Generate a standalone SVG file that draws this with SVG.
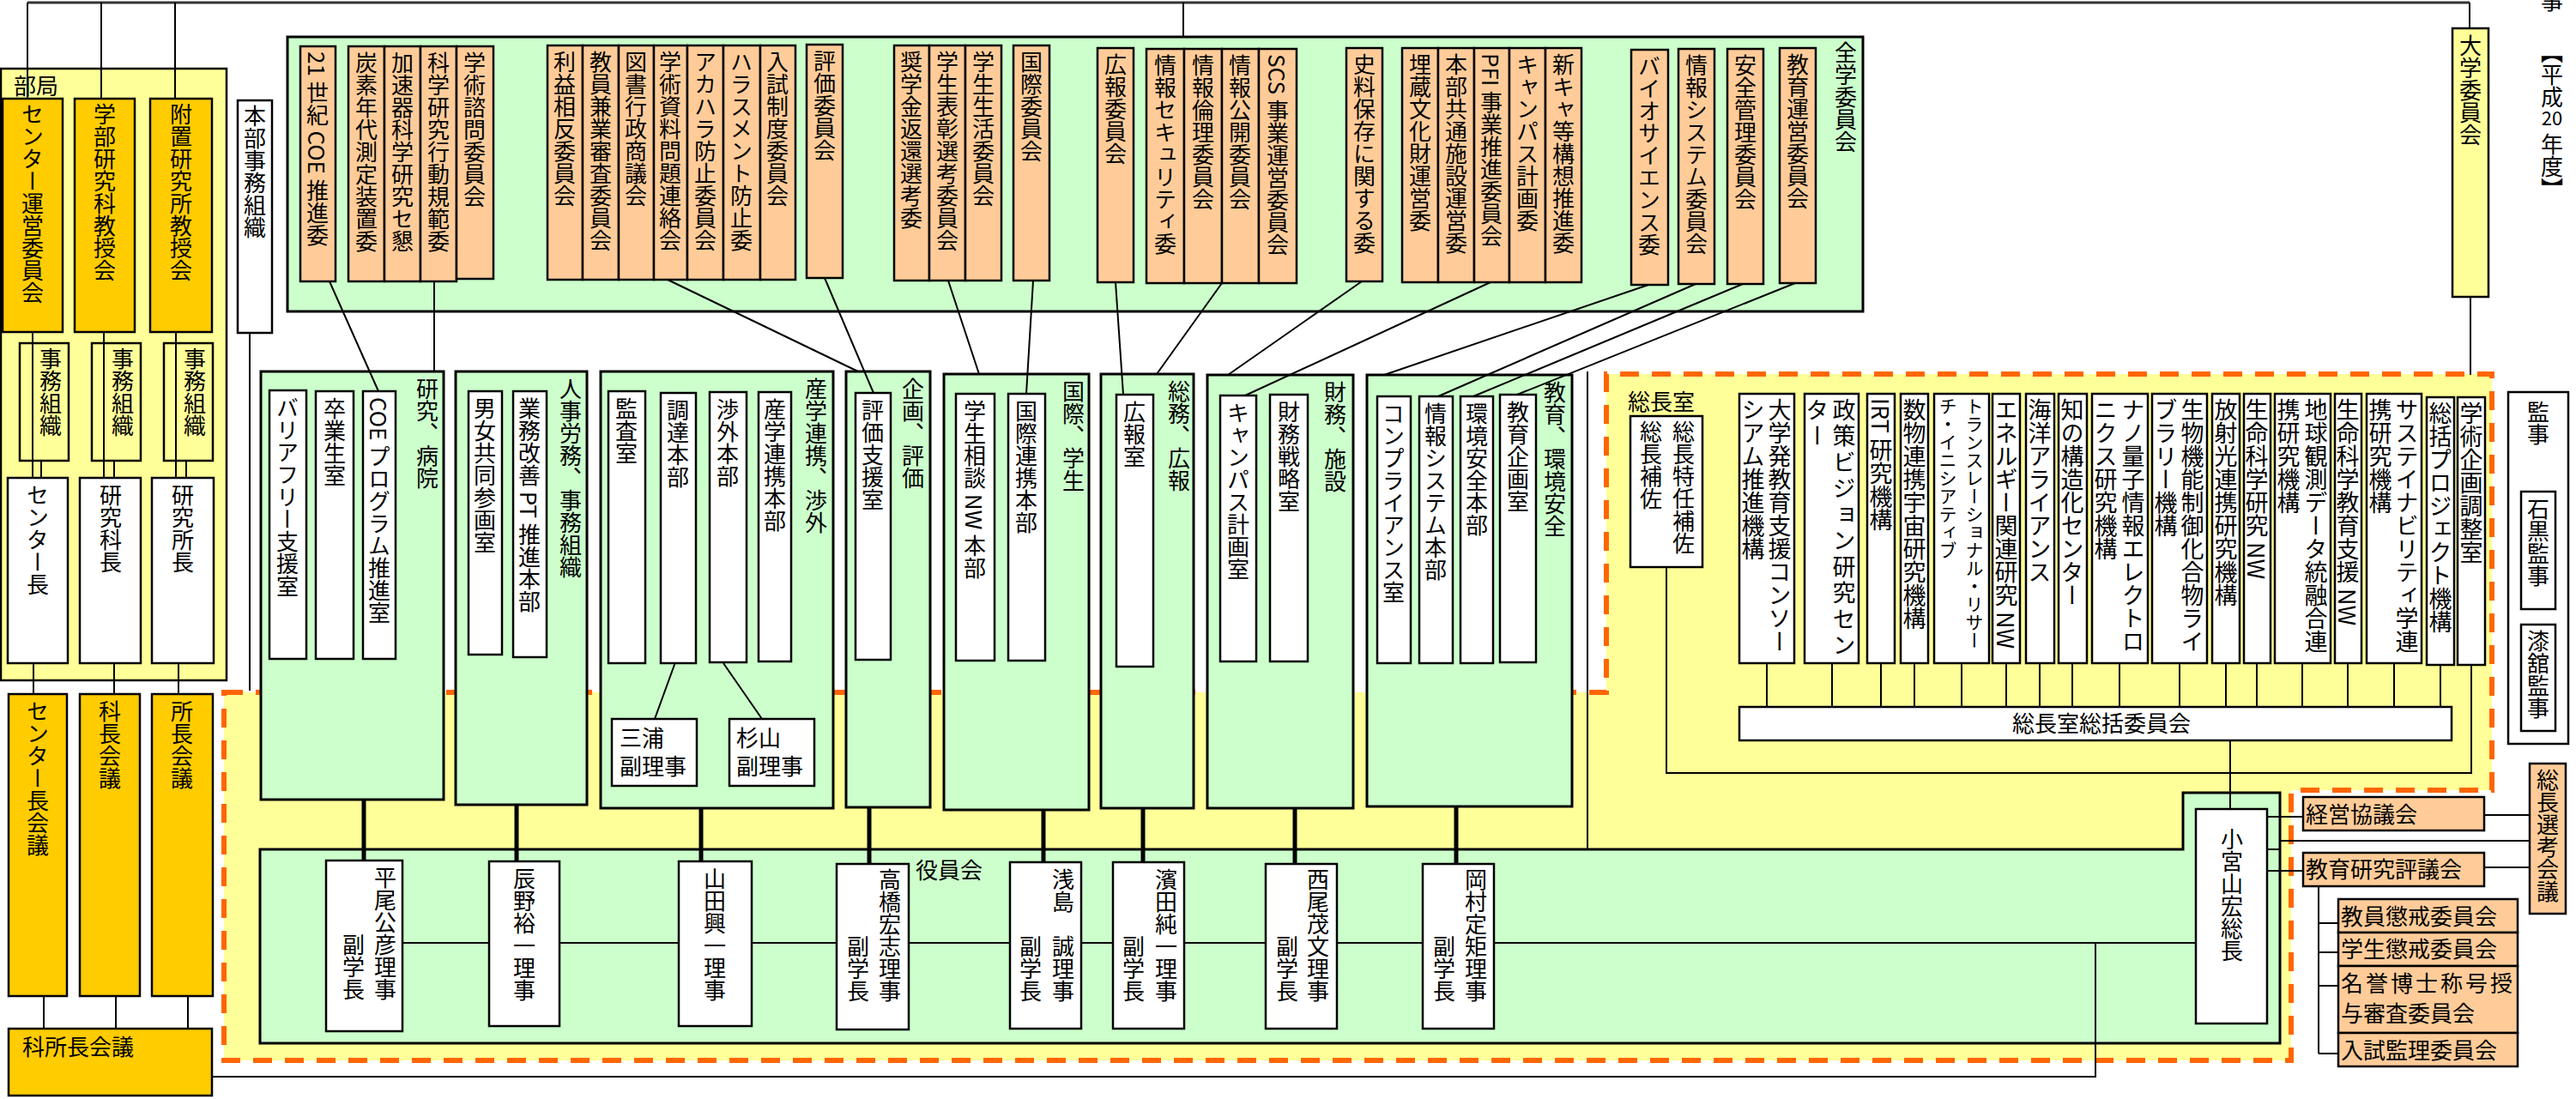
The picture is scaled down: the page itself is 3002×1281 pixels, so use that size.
<svg xmlns="http://www.w3.org/2000/svg" width="3002" height="1281" viewBox="0 0 3002 1281">
<style>
text{font-family:"Noto Sans CJK JP","Noto Sans CJK SC",sans-serif;font-size:26px;fill:#000}
.v{writing-mode:vertical-rl}
.ln{stroke:#000;stroke-width:2;fill:none}
.tk{stroke:#000;stroke-width:5;fill:none}
.top{stroke:#333;stroke-width:3;fill:none}
.cm{fill:#FFCC99;stroke:#000;stroke-width:2.5}
.wh{fill:#fff;stroke:#000;stroke-width:2.5}
.gr{fill:#CCFFCC;stroke:#000;stroke-width:3}
.ye{fill:#FFFF99;stroke:#000;stroke-width:2.5}
.go{fill:#FFCC00;stroke:#000;stroke-width:2.5}
.dash{fill:#FFFF99;stroke:#FF6600;stroke-width:6;stroke-dasharray:22 15}
.ins{font-size:27px}
.sm{font-size:21px}
</style>
<rect x="0" y="0" width="3002" height="1281" fill="#fff"/>

<!-- containers -->
<g id="bukyoku">
<rect class="ye" x="1" y="80" width="263" height="713"/>
<text x="16" y="110">部局</text>
</g>
<g id="socho-shitsu-area">
<path class="dash" d="M261,807 H1872 V436 H2904 V921 H2670 V1236 H261 Z"/>
<text x="1897" y="478">総長室</text>
</g>
<g id="zengaku">
<rect class="gr" x="335" y="43" width="1836" height="320"/>
<text class="v" x="2151" y="48">全学委員会</text>
</g>
<g id="daigaku-iinkai">
<rect class="ye" x="2858" y="33" width="42" height="313"/>
<text class="v" x="2879" y="40">大学委員会</text>
</g>
<g id="heisei">
<text class="v" x="2974" y="48">【平成</text>
<text x="2974" y="146" style="font-size:22px" text-anchor="middle">20</text>
<text class="v" x="2974" y="155">年度】</text>
<text x="2974" y="11" text-anchor="middle">事</text>
</g>

<!-- departments (green) -->
<g id="d-kenkyu"><rect class="gr" x="304" y="433" width="213" height="499"/><text class="v" x="498" y="440">研究、病院</text></g>
<g id="d-jinji"><rect class="gr" x="531" y="433" width="153" height="505"/><text class="v" x="665" y="440">人事労務、事務組織</text></g>
<g id="d-sangaku"><rect class="gr" x="700" y="433" width="271" height="509"/><text class="v" x="951" y="440">産学連携、渉外</text></g>
<g id="d-kikaku"><rect class="gr" x="986" y="433" width="98" height="508"/><text class="v" x="1064" y="440">企画、評価</text></g>
<g id="d-kokusai"><rect class="gr" x="1100" y="436" width="169" height="508"/><text class="v" x="1251" y="443">国際、学生</text></g>
<g id="d-somu"><rect class="gr" x="1283" y="436" width="108" height="506"/><text class="v" x="1374" y="443">総務、広報</text></g>
<g id="d-zaimu"><rect class="gr" x="1407" y="437" width="170" height="505"/><text class="v" x="1556" y="444">財務、施設</text></g>
<g id="d-kyoiku"><rect class="gr" x="1593" y="437" width="239" height="503"/><text class="v" x="1812" y="444">教育、環境安全</text></g>

<g id="yakuinkai">
<path class="gr" d="M303,990 H2544 V924 H2657 V1216 H303 Z"/>
<text x="1067" y="1024">役員会</text>
</g>

<!-- connectors -->
<g id="connectors">
<path class="top" d="M32,3 H2878"/>
<path class="ln" d="M32,3 V115 M118,3 V115 M204,3 V115 M1379,3 V43 M2878,3 V33 M2879,346 V437"/>
<path class="ln" d="M38,387 V557 M48,537 V557 M121,387 V557 M133,537 V557 M205,387 V557 M217,537 V557"/>
<path class="ln" d="M39,773 V809 M133,773 V809 M208,773 V809"/>
<path class="ln" d="M51,1161 V1199 M135,1161 V1199 M219,1161 V1199"/>
<path class="ln" d="M247,1255 H2442 V1099"/>
<path class="ln" d="M291,388 V805"/>
<path class="ln" d="M384,328 L441,456 M506,328 V433 M778,326 L1000,433 M961,324 L1018,458 M1105,327 L1141,436 M1204,327 L1196,459 M1300,329 L1309,460 M1424,330 L1348,436 M1587,328 L1431,437 M1737,329 L1451,461 M1921,332 L1613,437 M1976,331 L1676,462 M2031,331 L1717,462 M2092,330 L1768,460"/>
<path class="ln" d="M787,772 L763,838 M843,773 L888,838"/>
<path class="ln" d="M1850,433 V990"/>
<path class="tk" d="M424,932 V1003 M602,938 V1004 M817,942 V1004 M1013,941 V1007 M1216,944 V1005 M1332,942 V1005 M1509,942 V1007 M1697,940 V1007"/>
<path class="ln" d="M469,1099 H2559"/>
<path class="ln" d="M1942,661 V901 H2880 V775"/>
<path class="ln" d="M2059,773 V824 M2135,773 V824 M2192,773 V824 M2231,773 V824 M2286,773 V824 M2338,773 V824 M2377,773 V824 M2415,773 V824 M2470,773 V824 M2540,773 V824 M2594,773 V824 M2630,773 V824 M2683,773 V824 M2736,773 V824 M2790,773 V824 M2844,775 V824"/>
<path class="ln" d="M2599,863 V943"/>
<path class="ln" d="M2642,952 H2684 M2642,1015 H2684 M2642,990 H2657 M2657,980 H2948 M2895,950 H2948 M2895,1011 H2948"/>
<path class="ln" d="M2702,1033 V1228 M2702,1076 H2725 M2702,1110 H2725 M2702,1149 H2725 M2702,1228 H2725"/>
</g>

<!-- bukyoku nodes -->
<g id="center-unei"><rect class="go" x="3" y="115" width="70" height="272"/><text class="v" x="38" y="120">センター運営委員会</text></g>
<g id="gakubu-kyojukai"><rect class="go" x="87" y="115" width="70" height="272"/><text class="v" x="122" y="120">学部研究科教授会</text></g>
<g id="fuchi-kyojukai"><rect class="go" x="175" y="115" width="72" height="272"/><text class="v" x="211" y="120">附置研究所教授会</text></g>
<g id="jimu1"><rect class="ye" x="23" y="400" width="57" height="137"/><path class="ln" d="M38,400 V537"/><text class="v" x="59" y="405">事務組織</text></g>
<g id="jimu2"><rect class="ye" x="107" y="400" width="57" height="137"/><path class="ln" d="M121,400 V537"/><text class="v" x="143" y="405">事務組織</text></g>
<g id="jimu3"><rect class="ye" x="191" y="400" width="57" height="137"/><path class="ln" d="M205,400 V537"/><text class="v" x="227" y="405">事務組織</text></g>
<g id="center-cho"><rect class="wh" x="9" y="557" width="70" height="216"/><text class="v" x="44" y="564">センター長</text></g>
<g id="kenkyuka-cho"><rect class="wh" x="93" y="557" width="71" height="216"/><text class="v" x="129" y="564">研究科長</text></g>
<g id="kenkyusho-cho"><rect class="wh" x="177" y="557" width="72" height="216"/><text class="v" x="213" y="564">研究所長</text></g>
<g id="center-kaigi"><rect class="go" x="10" y="809" width="68" height="352"/><text class="v" x="44" y="816">センター長会議</text></g>
<g id="kacho-kaigi"><rect class="go" x="93" y="809" width="70" height="352"/><text class="v" x="128" y="816">科長会議</text></g>
<g id="shocho-kaigi"><rect class="go" x="177" y="809" width="71" height="352"/><text class="v" x="212" y="816">所長会議</text></g>
<g id="kashocho-kaigi"><rect class="go" x="10" y="1199" width="237" height="78"/><text x="26" y="1230">科所長会議</text></g>
<g id="honbu-jimu"><rect class="wh" x="277" y="117" width="40" height="271"/><text class="v" x="297" y="122">本部事務組織</text></g>

<!-- committees -->
<g id="committees">
<g id="c1"><rect class="cm" x="350" y="54" width="41" height="274"/><text class="v" x="370" y="60">21 世紀 COE 推進委</text></g>
<g id="c2"><rect class="cm" x="406" y="54" width="42" height="274"/><text class="v" x="427" y="60">炭素年代測定装置委</text></g>
<g id="c3"><rect class="cm" x="448" y="54" width="42" height="274"/><text class="v" x="469" y="60">加速器科学研究セ懇</text></g>
<g id="c4"><rect class="cm" x="490" y="54" width="42" height="274"/><text class="v" x="511" y="60">科学研究行動規範委</text></g>
<g id="c5"><rect class="cm" x="532" y="54" width="43" height="271"/><text class="v" x="553" y="60">学術諮問委員会</text></g>
<g id="c6"><rect class="cm" x="638" y="53" width="41" height="273"/><text class="v" x="658" y="59">利益相反委員会</text></g>
<g id="c7"><rect class="cm" x="679" y="53" width="42" height="273"/><text class="v" x="700" y="59">教員兼業審査委員会</text></g>
<g id="c8"><rect class="cm" x="721" y="53" width="41" height="273"/><text class="v" x="741" y="59">図書行政商議会</text></g>
<g id="c9"><rect class="cm" x="762" y="53" width="39" height="273"/><text class="v" x="781" y="59">学術資料問題連絡会</text></g>
<g id="c10"><rect class="cm" x="801" y="53" width="42" height="273"/><text class="v" x="822" y="59">アカハラ防止委員会</text></g>
<g id="c11"><rect class="cm" x="843" y="53" width="43" height="273"/><text class="v" x="864" y="59">ハラスメント防止委</text></g>
<g id="c12"><rect class="cm" x="886" y="53" width="41" height="273"/><text class="v" x="906" y="59">入試制度委員会</text></g>
<g id="c13"><rect class="cm" x="940" y="52" width="42" height="272"/><text class="v" x="961" y="58">評価委員会</text></g>
<g id="c14"><rect class="cm" x="1042" y="53" width="41" height="274"/><text class="v" x="1062" y="59">奨学金返還選考委</text></g>
<g id="c15"><rect class="cm" x="1083" y="53" width="42" height="274"/><text class="v" x="1104" y="59">学生表彰選考委員会</text></g>
<g id="c16"><rect class="cm" x="1125" y="53" width="42" height="274"/><text class="v" x="1146" y="59">学生生活委員会</text></g>
<g id="c17"><rect class="cm" x="1181" y="53" width="42" height="274"/><text class="v" x="1202" y="59">国際委員会</text></g>
<g id="c18"><rect class="cm" x="1279" y="56" width="42" height="273"/><text class="v" x="1300" y="62">広報委員会</text></g>
<g id="c19"><rect class="cm" x="1336" y="57" width="44" height="273"/><text class="v" x="1358" y="63">情報セキュリティ委</text></g>
<g id="c20"><rect class="cm" x="1380" y="57" width="44" height="273"/><text class="v" x="1402" y="63">情報倫理委員会</text></g>
<g id="c21"><rect class="cm" x="1424" y="57" width="43" height="273"/><text class="v" x="1445" y="63">情報公開委員会</text></g>
<g id="c22"><rect class="cm" x="1467" y="57" width="44" height="273"/><text class="v" x="1489" y="63">SCS 事業運営委員会</text></g>
<g id="c23"><rect class="cm" x="1569" y="56" width="42" height="272"/><text class="v" x="1590" y="62">史料保存に関する委</text></g>
<g id="c24"><rect class="cm" x="1634" y="56" width="42" height="273"/><text class="v" x="1655" y="62">埋蔵文化財運営委</text></g>
<g id="c25"><rect class="cm" x="1676" y="56" width="42" height="273"/><text class="v" x="1697" y="62">本部共通施設運営委</text></g>
<g id="c26"><rect class="cm" x="1718" y="56" width="41" height="273"/><text class="v" x="1738" y="62">PFI 事業推進委員会</text></g>
<g id="c27"><rect class="cm" x="1759" y="56" width="42" height="273"/><text class="v" x="1780" y="62">キャンパス計画委</text></g>
<g id="c28"><rect class="cm" x="1801" y="56" width="42" height="273"/><text class="v" x="1822" y="62">新キャ等構想推進委</text></g>
<g id="c29"><rect class="cm" x="1901" y="58" width="43" height="274"/><text class="v" x="1922" y="64">バイオサイエンス委</text></g>
<g id="c30"><rect class="cm" x="1956" y="57" width="42" height="274"/><text class="v" x="1977" y="63">情報システム委員会</text></g>
<g id="c31"><rect class="cm" x="2013" y="57" width="42" height="274"/><text class="v" x="2034" y="63">安全管理委員会</text></g>
<g id="c32"><rect class="cm" x="2074" y="56" width="42" height="274"/><text class="v" x="2095" y="62">教育運営委員会</text></g>
</g>

<!-- department children -->
<g id="barrier"><rect class="wh" x="314" y="455" width="43" height="313"/><text class="v" x="335" y="462">バリアフリー支援室</text></g>
<g id="sotsugyo"><rect class="wh" x="368" y="456" width="44" height="312"/><text class="v" x="390" y="463">卒業生室</text></g>
<g id="coe-prog"><rect class="wh" x="423" y="456" width="38" height="312"/><text class="v" x="442" y="463">COE プログラム推進室</text></g>
<g id="danjo"><rect class="wh" x="546" y="456" width="39" height="307"/><text class="v" x="565" y="463">男女共同参画室</text></g>
<g id="gyomu"><rect class="wh" x="598" y="456" width="39" height="310"/><text class="v" x="617" y="463">業務改善 PT 推進本部</text></g>
<g id="kansa"><rect class="wh" x="709" y="456" width="43" height="317"/><text class="v" x="730" y="463">監査室</text></g>
<g id="chotatsu"><rect class="wh" x="770" y="458" width="41" height="315"/><text class="v" x="790" y="465">調達本部</text></g>
<g id="shogai"><rect class="wh" x="827" y="457" width="43" height="315"/><text class="v" x="848" y="464">渉外本部</text></g>
<g id="sangaku-honbu"><rect class="wh" x="884" y="457" width="38" height="314"/><text class="v" x="903" y="464">産学連携本部</text></g>
<g id="miura"><rect class="wh" x="713" y="838" width="99" height="78"/><text x="722" y="870">三浦</text><text x="722" y="903">副理事</text></g>
<g id="sugiyama"><rect class="wh" x="850" y="838" width="99" height="78"/><text x="858" y="870">杉山</text><text x="858" y="903">副理事</text></g>
<g id="hyoka-shien"><rect class="wh" x="997" y="458" width="41" height="311"/><text class="v" x="1017" y="465">評価支援室</text></g>
<g id="gakusei-sodan"><rect class="wh" x="1114" y="459" width="45" height="311"/><text class="v" x="1136" y="466">学生相談 NW 本部</text></g>
<g id="kokusai-renkei"><rect class="wh" x="1175" y="459" width="43" height="311"/><text class="v" x="1196" y="466">国際連携本部</text></g>
<g id="koho-shitsu"><rect class="wh" x="1301" y="460" width="43" height="317"/><text class="v" x="1322" y="467">広報室</text></g>
<g id="campus-keikaku"><rect class="wh" x="1422" y="461" width="42" height="310"/><text class="v" x="1443" y="468">キャンパス計画室</text></g>
<g id="zaimu-senryaku"><rect class="wh" x="1480" y="460" width="44" height="311"/><text class="v" x="1502" y="467">財務戦略室</text></g>
<g id="compliance"><rect class="wh" x="1605" y="462" width="39" height="311"/><text class="v" x="1624" y="469">コンプライアンス室</text></g>
<g id="joho-system"><rect class="wh" x="1654" y="462" width="39" height="311"/><text class="v" x="1673" y="469">情報システム本部</text></g>
<g id="kankyo-anzen"><rect class="wh" x="1702" y="462" width="38" height="311"/><text class="v" x="1721" y="469">環境安全本部</text></g>
<g id="kyoiku-kikaku"><rect class="wh" x="1748" y="460" width="42" height="312"/><text class="v" x="1769" y="467">教育企画室</text></g>

<!-- executives -->
<g id="hirao"><rect class="wh" x="380" y="1003" width="89" height="199"/><text class="v" x="449" y="1010">平尾公彦理事</text><text class="v" x="412" y="1088">副学長</text></g>
<g id="tatsuno"><rect class="wh" x="570" y="1004" width="82" height="192"/><text class="v" x="611" y="1011">辰野裕一理事</text></g>
<g id="yamada"><rect class="wh" x="791" y="1004" width="85" height="192"/><text class="v" x="833" y="1011">山田興一理事</text></g>
<g id="takahashi"><rect class="wh" x="975" y="1007" width="84" height="193"/><text class="v" x="1037" y="1012">高橋宏志理事</text><text class="v" x="1000" y="1090">副学長</text></g>
<g id="asashima"><rect class="wh" x="1177" y="1005" width="83" height="194"/><text class="v" x="1239" y="1012">浅島　誠理事</text><text class="v" x="1201" y="1090">副学長</text></g>
<g id="hamada"><rect class="wh" x="1297" y="1005" width="83" height="194"/><text class="v" x="1359" y="1012">濱田純一理事</text><text class="v" x="1321" y="1090">副学長</text></g>
<g id="nishio"><rect class="wh" x="1475" y="1007" width="83" height="192"/><text class="v" x="1536" y="1012">西尾茂文理事</text><text class="v" x="1500" y="1090">副学長</text></g>
<g id="okamura"><rect class="wh" x="1658" y="1007" width="83" height="192"/><text class="v" x="1720" y="1012">岡村定矩理事</text><text class="v" x="1683" y="1090">副学長</text></g>
<g id="komiyama"><rect class="wh" x="2559" y="943" width="83" height="250"/><text class="v" x="2601" y="965">小宮山宏総長</text></g>

<!-- socho-shitsu nodes -->
<g id="socho-hosa"><rect class="wh" x="1900" y="485" width="84" height="176"/><text class="v" x="1962" y="490">総長特任補佐</text><text class="v" x="1924" y="490">総長補佐</text></g>
<g id="i1"><rect class="wh" x="2027" y="459" width="64" height="314"/><text class="v ins" x="2074" y="464">大学発教育支援コンソー</text><text class="v ins" x="2043" y="464">シアム推進機構</text></g>
<g id="i2"><rect class="wh" x="2103" y="459" width="63" height="314"/><text class="v ins" x="2149" y="464" style="letter-spacing:3.5px">政策ビジョン研究セン</text><text class="v ins" x="2118" y="464" style="letter-spacing:3.5px">ター</text></g>
<g id="i3"><rect class="wh" x="2176" y="459" width="32" height="314"/><text class="v ins" x="2192" y="464">IRT 研究機構</text></g>
<g id="i4"><rect class="wh" x="2215" y="459" width="32" height="314"/><text class="v ins" x="2231" y="464">数物連携宇宙研究機構</text></g>
<g id="i5"><rect class="wh" x="2254" y="459" width="64" height="314"/><text class="v sm" x="2301" y="463">トランスレーショナル・リサー</text><text class="v sm" x="2270" y="463">チ・イニシアティブ</text></g>
<g id="i6"><rect class="wh" x="2322" y="459" width="32" height="314"/><text class="v ins" x="2338" y="464">エネルギー関連研究 NW</text></g>
<g id="i7"><rect class="wh" x="2361" y="459" width="33" height="314"/><text class="v ins" x="2377" y="464">海洋アライアンス</text></g>
<g id="i8"><rect class="wh" x="2399" y="459" width="33" height="314"/><text class="v ins" x="2415" y="464">知の構造化センター</text></g>
<g id="i9"><rect class="wh" x="2438" y="459" width="65" height="314"/><text class="v ins" x="2486" y="464">ナノ量子情報エレクトロ</text><text class="v ins" x="2454" y="464">ニクス研究機構</text></g>
<g id="i10"><rect class="wh" x="2508" y="459" width="64" height="314"/><text class="v ins" x="2555" y="464">生物機能制御化合物ライ</text><text class="v ins" x="2524" y="464">ブラリー機構</text></g>
<g id="i11"><rect class="wh" x="2578" y="459" width="32" height="314"/><text class="v ins" x="2594" y="464">放射光連携研究機構</text></g>
<g id="i12"><rect class="wh" x="2615" y="459" width="31" height="314"/><text class="v ins" x="2630" y="464">生命科学研究 NW</text></g>
<g id="i13"><rect class="wh" x="2651" y="459" width="65" height="314"/><text class="v ins" x="2699" y="464">地球観測データ統融合連</text><text class="v ins" x="2667" y="464">携研究機構</text></g>
<g id="i14"><rect class="wh" x="2721" y="459" width="31" height="314"/><text class="v ins" x="2736" y="464">生命科学教育支援 NW</text></g>
<g id="i15"><rect class="wh" x="2758" y="459" width="64" height="314"/><text class="v ins" x="2805" y="464">サステイナビリティ学連</text><text class="v ins" x="2774" y="464">携研究機構</text></g>
<g id="i16"><rect class="wh" x="2828" y="463" width="32" height="312"/><text class="v ins" x="2844" y="468">総括プロジェクト機構</text></g>
<g id="i17"><rect class="wh" x="2864" y="463" width="32" height="312"/><text class="v ins" x="2880" y="468">学術企画調整室</text></g>
<g id="socho-sokatsu"><rect class="wh" x="2027" y="824" width="830" height="39"/><text x="2449" y="853" text-anchor="middle">総長室総括委員会</text></g>

<!-- right side -->
<g id="kanji"><rect class="wh" x="2923" y="457" width="70" height="410"/><text class="v" x="2958" y="467">監事</text>
<rect class="wh" x="2938" y="573" width="40" height="137"/><text class="v" x="2958" y="580">石黒監事</text>
<rect class="wh" x="2938" y="728" width="40" height="124"/><text class="v" x="2958" y="734">漆舘監事</text></g>
<g id="socho-senko"><rect class="cm" x="2948" y="890" width="42" height="175"/><text class="v" x="2969" y="896">総長選考会議</text></g>
<g id="keiei"><rect class="cm" x="2684" y="929" width="211" height="39"/><text x="2687" y="959">経営協議会</text></g>
<g id="hyogikai"><rect class="cm" x="2684" y="994" width="211" height="39"/><text x="2687" y="1023">教育研究評議会</text></g>
<g id="kyoin-choukai"><rect class="cm" x="2725" y="1048" width="209" height="39"/><text x="2728" y="1078">教員懲戒委員会</text></g>
<g id="gakusei-choukai"><rect class="cm" x="2725" y="1087" width="209" height="39"/><text x="2728" y="1116">学生懲戒委員会</text></g>
<g id="meiyo"><rect class="cm" x="2725" y="1126" width="209" height="78"/><text x="2728" y="1156" style="letter-spacing:3px">名誉博士称号授</text><text x="2728" y="1191">与審査委員会</text></g>
<g id="nyushi-kanri"><rect class="cm" x="2725" y="1204" width="209" height="39"/><text x="2728" y="1234">入試監理委員会</text></g>
</svg>
